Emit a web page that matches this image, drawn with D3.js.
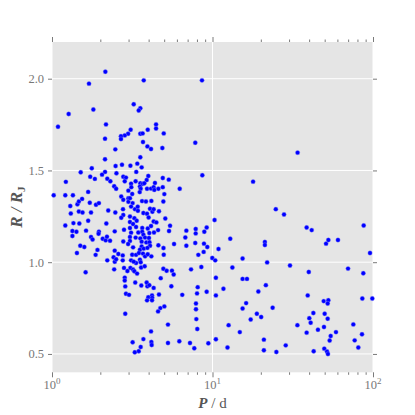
<!DOCTYPE html>
<html><head><meta charset="utf-8">
<script src="https://cdn.jsdelivr.net/npm/d3@7"></script>
<style>body{margin:0;background:#fff}</style>
</head><body>
<svg id="c" width="415" height="415"></svg>
<script>
const periods = [2.15,1.70,3.73,8.60,3.23,3.55,3.47,1.27,1.81,1.09,2.17,4.45,4.45,3.95,3.09,2.98,2.84,2.69,2.69,3.55,
3.67,4.97,2.14,3.69,3.93,4.14,4.87,7.81,2.48,3.55,2.14,1.77,2.49,2.73,3.08,3.40,3.62,33.9,2.14,2.52,
2.05,1.73,1.85,2.21,2.31,2.78,2.89,2.84,3.35,3.98,3.89,3.32,3.55,3.67,3.76,3.11,4.38,4.90,5.34,8.64,
17.9,2.44,2.51,3.12,3.53,3.57,3.91,4.14,4.30,4.34,4.60,4.90,6.25,2.99,3.52,5.01,1.51,1.22,1.68,1.025,
1.21,1.35,3.16,2.70,2.78,2.99,2.99,1.30,1.44,1.47,1.54,1.72,1.88,1.96,1.31,1.47,1.55,1.75,2.24,2.48,
2.77,2.78,2.70,3.06,3.18,3.64,3.85,4.16,4.94,3.11,3.29,3.42,3.43,3.71,3.91,4.08,4.22,4.30,4.64,3.06,
3.26,3.37,4.00,4.30,4.47,5.08,10.3,3.06,3.20,3.34,3.65,3.95,4.14,5.44,4.58,5.36,6.87,7.86,9.20,1.21,
1.36,1.48,1.68,2.18,2.46,2.81,3.06,24.8,27.9,38.6,41.5,87.5,3.11,3.45,3.65,3.71,4.04,4.32,7.86,8.89,
3.06,3.32,3.55,3.80,4.02,6.77,12.9,3.06,3.62,3.87,4.05,5.76,7.81,21.2,21.2,3.20,3.62,4.08,4.60,8.85,
9.28,6.87,3.53,3.73,3.93,4.95,10.9,3.16,3.34,3.48,3.69,3.80,3.95,4.16,4.97,8.16,8.81,9.97,10.4,3.11,
3.53,3.57,3.34,15.4,21.9,1.34,1.34,1.42,1.63,1.75,1.79,1.96,1.95,2.07,2.16,2.30,2.20,2.78,2.98,1.50,
1.59,1.43,1.92,1.87,2.21,2.46,2.42,2.59,2.76,2.46,2.51,2.76,3.23,51.0,52.7,60.5,95.8,3.08,3.20,3.26,
3.59,3.78,4.94,5.18,5.59,5.73,7.35,8.52,13.3,4.76,10.5,15.4,16.4,3.30,3.60,3.93,3.89,4.04,4.30,5.54,
8.09,11.7,21.5,4.64,4.20,3.98,6.48,8.01,9.20,10.5,19.3,1.62,2.44,2.81,2.84,2.84,2.86,2.89,3.02,3.39,
2.95,4.21,4.20,3.91,39.2,85.8,99.0,49.3,52.7,52.2,23.7,20.1,42.5,50.0,40.1,40.9,52.2,33.8,75.4,49.5,
45.4,58.8,38.6,54.5,85.4,20.9,53.7,76.9,28.6,81.0,49.7,20.9,25.0,42.7,51.7,52.4,5.01,4.73,4.58,7.89,
7.89,16.2,15.4,18.9,7.93,8.04,17.3,12.6,14.8,5.28,4.14,3.71,3.18,4.16,4.18,5.28,6.21,7.24,7.70,9.42,
10.5,12.4,3.57,3.47,3.28,2.86,30.4,39.8,69.9,87.0];
const radii = [2.038,1.973,1.991,1.991,1.861,1.839,1.827,1.808,1.832,1.738,1.751,1.751,1.729,1.722,1.722,1.700,1.691,1.687,1.671,1.700,
1.702,1.702,1.673,1.655,1.631,1.617,1.622,1.651,1.615,1.572,1.561,1.512,1.524,1.531,1.526,1.537,1.517,1.597,1.492,1.485,
1.477,1.466,1.454,1.455,1.441,1.466,1.461,1.441,1.492,1.470,1.448,1.441,1.430,1.427,1.430,1.428,1.432,1.459,1.450,1.474,
1.439,1.414,1.400,1.409,1.412,1.400,1.400,1.401,1.409,1.394,1.400,1.409,1.400,1.390,1.382,1.371,1.490,1.438,1.383,1.365,
1.365,1.365,1.372,1.358,1.340,1.349,1.329,1.306,1.316,1.331,1.345,1.324,1.313,1.322,1.265,1.276,1.271,1.271,1.282,1.271,
1.289,1.257,1.242,1.349,1.322,1.333,1.331,1.334,1.331,1.303,1.289,1.302,1.280,1.268,1.264,1.291,1.275,1.289,1.278,1.249,
1.240,1.226,1.244,1.222,1.217,1.238,1.230,1.219,1.208,1.192,1.186,1.184,1.197,1.199,1.175,1.170,1.172,1.181,1.189,1.200,
1.213,1.211,1.226,1.211,1.168,1.177,1.186,1.289,1.260,1.189,1.175,1.200,1.161,1.162,1.166,1.150,1.159,1.162,1.157,1.166,
1.137,1.134,1.130,1.134,1.132,1.135,1.128,1.116,1.112,1.108,1.109,1.099,1.105,1.110,1.094,1.081,1.086,1.090,1.092,1.101,
1.083,1.090,1.068,1.074,1.078,1.077,1.072,1.041,1.040,1.050,1.047,1.032,1.043,1.032,1.041,1.040,1.056,1.023,1.010,1.010,
1.014,1.000,0.996,1.020,0.999,1.170,1.143,1.166,1.172,1.137,1.124,1.166,1.155,1.128,1.119,1.117,1.139,1.113,1.099,1.090,
1.083,1.050,1.067,1.040,1.010,1.063,1.027,1.045,1.037,1.002,1.016,1.010,1.003,1.101,1.121,1.121,1.050,0.969,0.960,0.951,
0.971,0.978,0.964,0.953,0.954,0.933,0.961,0.974,0.971,0.913,0.915,0.909,0.909,0.889,0.873,0.869,0.889,0.875,0.860,0.869,
0.864,0.855,0.875,0.824,0.819,0.809,0.822,0.830,0.839,0.819,0.840,0.945,0.961,0.969,0.916,0.900,0.868,0.828,0.822,0.938,
0.952,0.806,0.793,0.792,0.819,0.802,0.802,0.788,0.793,0.775,0.752,0.701,0.723,0.719,0.695,0.670,0.692,0.657,0.661,0.647,
0.632,0.619,0.616,0.598,0.607,0.578,0.573,0.574,0.547,0.535,0.529,0.520,0.511,0.515,0.513,0.500,0.759,0.750,0.732,0.775,
0.744,0.777,0.748,0.719,0.690,0.636,0.688,0.657,0.619,0.660,0.623,0.581,0.564,0.565,0.549,0.560,0.569,0.560,0.531,0.558,
0.580,0.535,0.538,0.515,0.509,0.719,0.982,0.947,0.965,0.940];
const xMajor = [1, 10, 100];
const xMinor = [2,3,4,5,6,7,8,9,20,30,40,50,60,70,80,90];
const xExponents = ["0","1","2"];
const yTicks = [0.5, 1.0, 1.5, 2.0];
const yTickLabels = ["0.5","1.0","1.5","2.0"];

const L = 52, R = 373, T = 42, B = 372.3;
const svg = d3.select("#c");
const x = d3.scaleLog().domain([1, 100]).range([L, R]);
const y = d3.scaleLinear().domain([0.4, 2.2]).range([B, T]);

svg.append("rect").attr("x", L).attr("y", T).attr("width", R - L).attr("height", B - T).attr("fill", "#e5e5e5");

const grid = svg.append("g").attr("stroke", "#ffffff").attr("stroke-width", 1);
grid.selectAll(".gx").data(xMajor).join("line").attr("x1", d => x(d)).attr("x2", d => x(d)).attr("y1", T).attr("y2", B);
grid.selectAll(".gy").data(yTicks).join("line").attr("x1", L).attr("x2", R).attr("y1", d => y(d)).attr("y2", d => y(d));

const tc = "#7a7a7a";
function styleAxis(g){ g.select(".domain").remove(); g.selectAll("line").attr("stroke", tc); g.selectAll("text").remove(); }
svg.append("g").attr("transform", `translate(0,${B})`).call(d3.axisBottom(x).tickValues(xMajor).tickSize(5).tickFormat("")).call(styleAxis);
svg.append("g").attr("transform", `translate(0,${B})`).call(d3.axisBottom(x).tickValues(xMinor).tickSize(2.5).tickFormat("")).call(styleAxis);
svg.append("g").attr("transform", `translate(0,${T})`).call(d3.axisTop(x).tickValues(xMajor).tickSize(5).tickFormat("")).call(styleAxis);
svg.append("g").attr("transform", `translate(0,${T})`).call(d3.axisTop(x).tickValues(xMinor).tickSize(2.5).tickFormat("")).call(styleAxis);
svg.append("g").attr("transform", `translate(${L},0)`).call(d3.axisLeft(y).tickValues(yTicks).tickSize(4).tickFormat("")).call(styleAxis);
svg.append("g").attr("transform", `translate(${R},0)`).call(d3.axisRight(y).tickValues(yTicks).tickSize(4).tickFormat("")).call(styleAxis);

const font = "'Liberation Serif', 'DejaVu Serif', serif";
svg.append("g").selectAll("text").data(yTicks).join("text")
  .attr("x", L - 8).attr("y", d => y(d)).attr("dy", "0.35em").attr("text-anchor", "end")
  .attr("font-family", font).attr("font-size", 12.5).attr("fill", "#777")
  .text((d, i) => yTickLabels[i]);

const xl = svg.append("g").selectAll("text").data(xMajor).join("text")
  .attr("x", d => x(d)).attr("y", 389).attr("text-anchor", "middle")
  .attr("font-family", font).attr("font-size", 12.5).attr("fill", "#777");
xl.append("tspan").text("10");
xl.append("tspan").attr("dy", -5).attr("font-size", 9).text((d, i) => xExponents[i]);

svg.append("text").attr("x", (L + R) / 2).attr("y", 408).attr("text-anchor", "middle")
  .attr("font-family", font).attr("font-size", 15).attr("fill", "#555")
  .call(t => { t.append("tspan").attr("font-style", "italic").attr("font-weight", "bold").text("P");
               t.append("tspan").text(" / d"); });

svg.append("text").attr("transform", `translate(22,${(T + B) / 2}) rotate(-90)`).attr("text-anchor", "middle")
  .attr("font-family", font).attr("font-size", 17).attr("fill", "#555")
  .call(t => { t.append("tspan").attr("font-style", "italic").attr("font-weight", "bold").text("R");
               t.append("tspan").attr("font-style", "italic").text(" / ");
               t.append("tspan").attr("font-style", "italic").attr("font-weight", "bold").text("R");
               t.append("tspan").attr("font-size", 11).attr("dy", 3).attr("font-weight", "bold").text("J"); });

svg.append("g").selectAll("circle").data(periods.map((p, i) => [p, radii[i]])).join("circle")
  .attr("cx", d => x(d[0])).attr("cy", d => y(d[1])).attr("r", 2.2)
  .attr("fill", "#0000ff").attr("stroke", "#8c8cff").attr("stroke-width", 0.4);
</script>
</body></html>
